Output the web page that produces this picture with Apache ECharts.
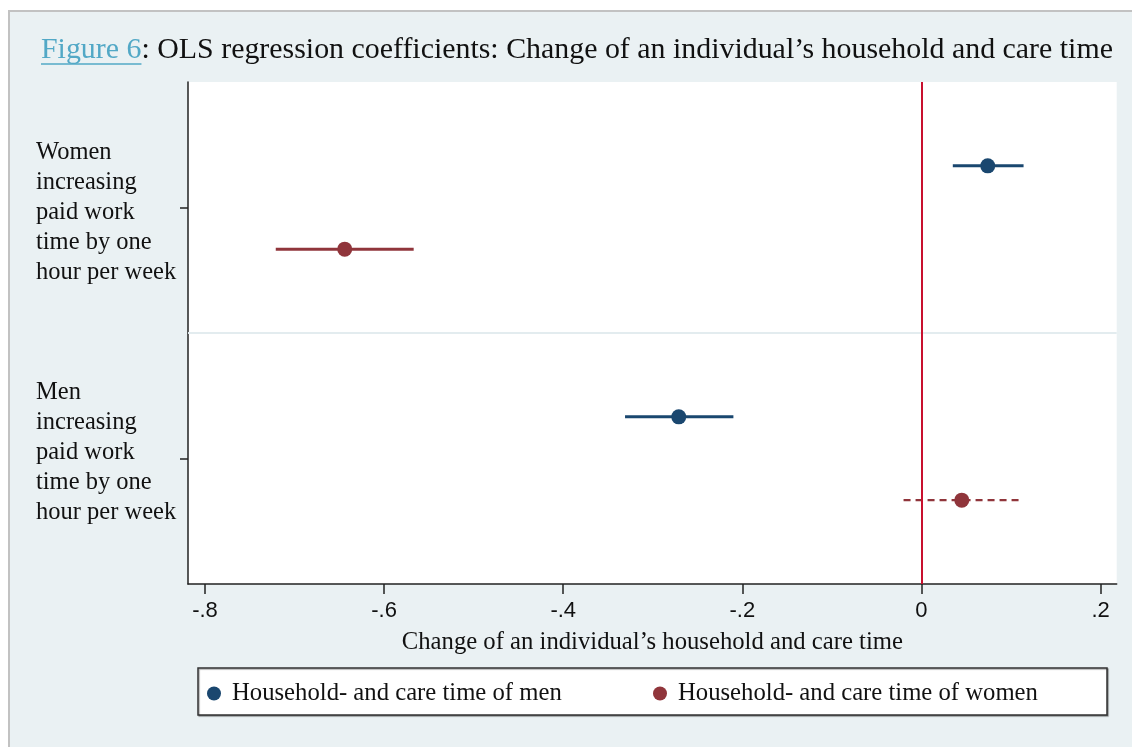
<!DOCTYPE html>
<html>
<head>
<meta charset="utf-8">
<script src="https://cdn.jsdelivr.net/npm/echarts@6/dist/echarts.min.js"></script>
<style>
html,body{margin:0;padding:0;background:#ffffff;}
#chart{width:1132px;height:747px;}
</style>
</head>
<body>
<div id="chart"></div>
<script>
// ---- data ----
var groups = ['Women\nincreasing\npaid work\ntime by one\nhour per week',
              'Men\nincreasing\npaid work\ntime by one\nhour per week'];
var seriesNames = ['Household- and care time of men', 'Household- and care time of women'];
// coefficients and 95% CI bounds, per group
var menCoef  = [0.074, -0.271];
var menLo    = [0.035, -0.331];
var menHi    = [0.114, -0.210];
var womenCoef = [-0.644, 0.045];
var womenLo   = [-0.721, -0.020];
var womenHi   = [-0.567, 0.110];
var xTicks = [-0.8, -0.6, -0.4, -0.2, 0, 0.2];

var titleMain = ': OLS regression coefficients: Change of an individual\u2019s household and care time';
var titleFig = 'Figure 6';
var xName = 'Change of an individual\u2019s household and care time';

var colors = ['#1a476f', '#90353b'];
var bg = '#eaf1f3';
var offsets = [-0.166, 0.166];
// label anchor positions (slightly off the tick, as in the original layout)
var labelPos = [1.022, 1.978];

function pts(coef, off) {
  return coef.map(function (c, i) { return [c, i + 1 + off]; });
}
function cis(lo, hi, off) {
  return lo.map(function (l, i) { return [l, hi[i], i + 1 + off]; });
}
function ciSeries(name, lo, hi, off, color) {
  return {
    type: 'custom',
    name: name + ' CI',
    data: cis(lo, hi, off),
    z: 2,
    silent: true,
    renderItem: function (params, api) {
      var l = api.value(0), h = api.value(1), y = api.value(2);
      var p1 = api.coord([l, y]), p2 = api.coord([h, y]);
      var dashed = l < 0 && h > 0;
      return {
        type: 'line',
        shape: { x1: p1[0], y1: p1[1], x2: p2[0], y2: p2[1] },
        style: { stroke: color, lineWidth: dashed ? 2.2 : 3, lineDash: dashed ? [7, 5] : null }
      };
    }
  };
}

var titleFont = 29.9;
var c = document.createElement('canvas').getContext('2d');
c.font = titleFont + 'px "Liberation Serif"';
var figW = c.measureText(titleFig).width;

var serif = 'Liberation Serif';
var chart = echarts.init(document.getElementById('chart'), null, { renderer: 'canvas' });
var option = {
  animation: false,
  backgroundColor: '#ffffff',
  graphic: [
    { type: 'rect', z: -10, shape: { x: 9, y: 11, width: 1200, height: 800 },
      style: { fill: bg, stroke: '#c2c2c2', lineWidth: 2 } },
    { type: 'rect', z: -5, shape: { x: 198, y: 668, width: 909, height: 47 },
      style: { fill: '#ffffff', stroke: '#333333', lineWidth: 1.5,
               shadowColor: 'rgba(0,0,0,0.35)', shadowOffsetX: 1, shadowOffsetY: 1, shadowBlur: 1 } },
    { type: 'line', shape: { x1: 41, y1: 64, x2: 41 + figW, y2: 64 },
      style: { stroke: '#52a8c6', lineWidth: 1.5 } }
  ],
  title: {
    left: 41, top: 35, padding: 0,
    text: '{f|' + titleFig + '}' + titleMain,
    textStyle: {
      fontFamily: serif, fontSize: titleFont, fontWeight: 'normal', color: '#111111',
      rich: { f: { fontFamily: serif, fontSize: titleFont, color: '#52a8c6' } }
    }
  },
  legend: [
    { data: [seriesNames[0]], left: 207, top: 681, padding: 0, itemWidth: 14, itemHeight: 14, icon: 'circle',
      textStyle: { fontFamily: serif, fontSize: 24.7, color: '#111', padding: [0, 0, 0, 6] } },
    { data: [seriesNames[1]], left: 653, top: 681, padding: 0, itemWidth: 14, itemHeight: 14, icon: 'circle',
      textStyle: { fontFamily: serif, fontSize: 24.7, color: '#111', padding: [0, 0, 0, 6] } }
  ],
  grid: { left: 188, right: 15.3, top: 82, bottom: 163, show: true, backgroundColor: '#ffffff', borderWidth: 0 },
  xAxis: {
    type: 'value', min: -0.819, max: 0.218,
    name: xName, nameLocation: 'middle', nameGap: 46,
    nameTextStyle: { fontFamily: serif, fontSize: 24.7, color: '#111' },
    axisLine: { show: true, onZero: false, lineStyle: { color: '#222', width: 1.5 } },
    axisTick: { show: true, length: 10, customValues: xTicks, lineStyle: { color: '#222', width: 1.5 } },
    axisLabel: { customValues: xTicks, margin: 16, fontFamily: 'Liberation Sans', fontSize: 22, color: '#111',
      formatter: function (v) {
        if (Math.abs(v) < 1e-9) return '0';
        return (v < 0 ? '-' : '') + Math.abs(v).toFixed(1).replace(/^0/, '');
      } },
    splitLine: { show: false }
  },
  yAxis: {
    type: 'value', min: 0.5, max: 2.5, inverse: true,
    axisLine: { show: true, onZero: false, lineStyle: { color: '#222', width: 1.5 } },
    axisTick: { show: true, length: 8, customValues: [1, 2], lineStyle: { color: '#222', width: 1.5 } },
    axisLabel: { customValues: labelPos, align: 'left', margin: 152, fontFamily: serif,
      fontSize: 24.5, lineHeight: 30, color: '#111',
      formatter: function (v) { return groups[Math.round(v) - 1]; } },
    splitLine: { show: false }
  },
  series: [
    ciSeries(seriesNames[0], menLo, menHi, offsets[0], colors[0]),
    ciSeries(seriesNames[1], womenLo, womenHi, offsets[1], colors[1]),
    { type: 'scatter', name: seriesNames[0], data: pts(menCoef, offsets[0]), symbolSize: 15, z: 4,
      itemStyle: { color: colors[0], opacity: 1 },
      markLine: { silent: true, symbol: 'none', label: { show: false },
        lineStyle: { color: '#e3ecef', width: 2, type: 'solid' }, data: [{ yAxis: 1.5 }] } },
    { type: 'scatter', name: seriesNames[1], data: pts(womenCoef, offsets[1]), symbolSize: 15, z: 4,
      itemStyle: { color: colors[1], opacity: 1 },
      markLine: { silent: true, symbol: 'none', label: { show: false },
        lineStyle: { color: '#c8102e', width: 2, type: 'solid' }, data: [{ xAxis: 0 }] } }
  ]
};
chart.setOption(option);
</script>
</body>
</html>
